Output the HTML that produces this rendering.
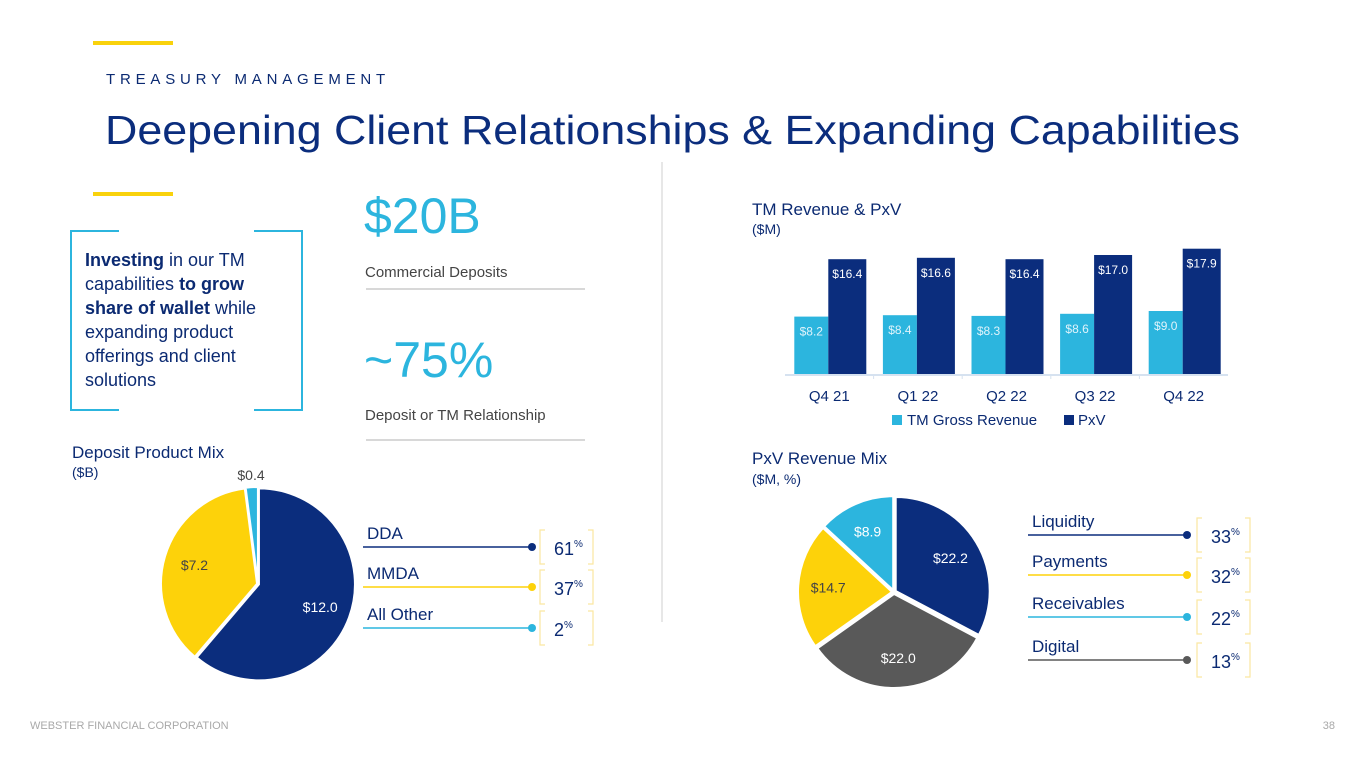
<!DOCTYPE html>
<html><head><meta charset="utf-8"><style>
html,body{margin:0;padding:0;background:#fff;}
svg{display:block;font-family:"Liberation Sans",sans-serif;}
</style></head><body>
<svg id="s" width="1365" height="768" viewBox="0 0 1365 768">
<rect x="93" y="41" width="80" height="4" fill="#f9d20c"/>
<text x="106" y="84" font-size="15" fill="#0b2a72" letter-spacing="4.8">TREASURY MANAGEMENT</text>
<text x="105" y="144" font-size="41" fill="#0b2d7d" textLength="1135" lengthAdjust="spacingAndGlyphs">Deepening Client Relationships &amp; Expanding Capabilities</text>
<rect x="93" y="192" width="80" height="4" fill="#f9d20c"/>
<g fill="none" stroke="#2cb5de" stroke-width="2">
<path d="M119,231 H71 V410 H119 M254,231 H302 V410 H254"/>
</g>
<text font-size="18" fill="#0b2a72">
<tspan x="85" y="266"><tspan font-weight="bold">Investing</tspan> in our TM</tspan>
<tspan x="85" y="290">capabilities <tspan font-weight="bold">to grow</tspan></tspan>
<tspan x="85" y="314"><tspan font-weight="bold">share of wallet</tspan> while</tspan>
<tspan x="85" y="338">expanding product</tspan>
<tspan x="85" y="362">offerings and client</tspan>
<tspan x="85" y="386">solutions</tspan>
</text>
<text x="364" y="233" font-size="50" fill="#2cb5de">$20B</text>
<text x="365" y="277" font-size="15" fill="#444">Commercial Deposits</text>
<line x1="366" y1="289" x2="585" y2="289" stroke="#d8d8d8" stroke-width="2"/>
<text x="364" y="377" font-size="50" fill="#2cb5de">~75%</text>
<text x="365" y="420" font-size="15" fill="#444">Deposit or TM Relationship</text>
<line x1="366" y1="440" x2="585" y2="440" stroke="#d8d8d8" stroke-width="2"/>
<line x1="662" y1="162" x2="662" y2="622" stroke="#cfcfcf" stroke-width="1"/>

<text x="752" y="215" font-size="17" fill="#0b2a72">TM Revenue &amp; PxV</text>
<text x="752" y="234" font-size="14" fill="#0b2a72">($M)</text>
<g id="bars"></g>
<rect x="892" y="415" width="10" height="10" fill="#2cb5de"/>
<text x="907" y="425" font-size="15" fill="#0b2a72">TM Gross Revenue</text>
<rect x="1064" y="415" width="10" height="10" fill="#0b2d7d"/>
<text x="1078" y="425" font-size="15" fill="#0b2a72">PxV</text>

<text x="72" y="458" font-size="17" fill="#0b2a72">Deposit Product Mix</text>
<text x="72" y="477" font-size="14" fill="#0b2a72">($B)</text>
<g id="pie1"></g>
<g id="leg1"></g>

<text x="752" y="464" font-size="17" fill="#0b2a72">PxV Revenue Mix</text>
<text x="752" y="484" font-size="14" fill="#0b2a72">($M, %)</text>
<g id="pie2"></g>
<g id="leg2"></g>

<text x="30" y="729" font-size="11" fill="#a9a9a9">WEBSTER FINANCIAL CORPORATION</text>
<text x="1335" y="729" font-size="11" fill="#a9a9a9" text-anchor="end">38</text>
</svg>
<script>
const barCats=["Q4 21","Q1 22","Q2 22","Q3 22","Q4 22"];
const tmGross=[8.2,8.4,8.3,8.6,9.0];
const pxv=[16.4,16.6,16.4,17.0,17.9];
const depCats=["DDA","MMDA","All Other"];
const depVals=[12.0,7.2,0.4];
const depPct=[61,37,2];
const pxvCats=["Liquidity","Payments","Receivables","Digital"];
const pxvVals=[22.2,22.0,14.7,8.9];
const pxvPct=[33,32,22,13];

const NS="http://www.w3.org/2000/svg";
function mk(tag,attrs,parent,txt){const e=document.createElementNS(NS,tag);for(const k in attrs)e.setAttribute(k,attrs[k]);if(txt!==undefined)e.textContent=txt;parent.appendChild(e);return e;}
const NAVY="#0b2d7d",LB="#2cb5de",YEL="#fdd20a",GRAY="#595959";

const bars=document.getElementById('bars');
const base=374, scale=7.0, x0=785, step=88.6;
const ys=v=>base-v*scale;
mk('line',{x1:x0,y1:base+1,x2:x0+step*5,y2:base+1,stroke:'#d6e2f0','stroke-width':2},bars);
barCats.forEach((c,i)=>{
  const cx=x0+step*i+step/2;
  let r=mk('rect',{x:cx-35,y:ys(tmGross[i]),width:34,height:tmGross[i]*scale,fill:LB},bars);
  
  
  let r2=mk('rect',{x:cx-1,y:ys(pxv[i]),width:38,height:pxv[i]*scale,fill:NAVY},bars);
  
  
  mk('text',{x:cx-18,y:ys(tmGross[i])+19,'font-size':12,fill:'#dff3fb','text-anchor':'middle'},bars,'$'+tmGross[i].toFixed(1));
  mk('text',{x:cx+18,y:ys(pxv[i])+19,'font-size':12,fill:'#fff','text-anchor':'middle'},bars,'$'+pxv[i].toFixed(1));
  let t=mk('text',{x:cx,y:401,'font-size':15,fill:'#0b2a72','text-anchor':'middle'},bars,c);
  
  
  if(i>0) mk('line',{x1:x0+step*i,y1:base+1,x2:x0+step*i,y2:base+5,stroke:'#d6e2f0'},bars);
});

function pie(g,cx,cy,r,vals,cols,labCols,explode){
  const tot=vals.reduce((a,b)=>a+b,0);let a=-Math.PI/2;
  vals.forEach((v,i)=>{
    const da=v/tot*2*Math.PI,mid=a+da/2;
    const ox=Math.cos(mid)*explode,oy=Math.sin(mid)*explode;
    const x1=cx+ox+r*Math.cos(a),y1=cy+oy+r*Math.sin(a),x2=cx+ox+r*Math.cos(a+da),y2=cy+oy+r*Math.sin(a+da);
    const p=mk('path',{d:`M${cx+ox},${cy+oy} L${x1},${y1} A${r},${r} 0 ${da>Math.PI?1:0} 1 ${x2},${y2} Z`,fill:cols[i],stroke:'#fff','stroke-width':2},g);
    
    
    const lr=v/tot<0.05?r+12:r*0.68;
    mk('text',{x:cx+ox+lr*Math.cos(mid),y:cy+oy+lr*Math.sin(mid)+5,'font-size':14,fill:labCols[i],'text-anchor':'middle'},g,'$'+v.toFixed(1));
    a+=da;
  });
}
pie(document.getElementById('pie1'),258,584,96,depVals,[NAVY,YEL,LB],['#fff','#444','#444'],1);
pie(document.getElementById('pie2'),894,592,94,pxvVals,[NAVY,GRAY,YEL,LB],['#fff','#fff','#444','#fff'],2);

function legend(g,x1,x2,bx,ys,cats,pct,cols){
  cats.forEach((c,i)=>{
    const y=ys[i];
    let t=mk('text',{x:x1+2,y:y-8,'font-size':17,fill:'#0b2a72'},g,c);
    
    
    mk('line',{x1:x1-2,y1:y,x2:x2,y2:y,stroke:cols[i],'stroke-width':1.5},g);
    mk('circle',{cx:x2,cy:y,r:4,fill:cols[i]},g);
    mk('path',{d:`M${bx+5},${y-17} H${bx} V${y+17} H${bx+5} M${bx+48},${y-17} H${bx+53} V${y+17} H${bx+48}`,fill:'none',stroke:'#fbe7a0','stroke-width':1.2},g);
    const tt=mk('text',{x:bx+14,y:y+8,'font-size':18,fill:'#0b2a72'},g);
    mk('tspan',{},tt,String(pct[i]));
    mk('tspan',{'font-size':10,dy:-8},tt,'%');
  });
}
legend(document.getElementById('leg1'),365,532,540,[547,587,628],depCats,depPct,[NAVY,YEL,LB]);
legend(document.getElementById('leg2'),1030,1187,1197,[535,575,617,660],pxvCats,pxvPct,[NAVY,YEL,LB,GRAY]);
</script>
</body></html>
